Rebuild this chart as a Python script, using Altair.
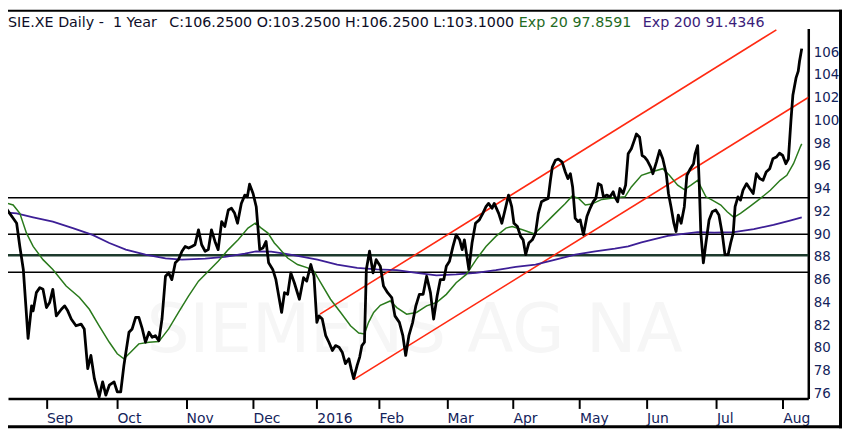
import altair as alt
import pandas as pd

# ---------------- data ----------------
# x = trading-day index over the one-year window, y = price (EUR)
price_day = [0.0, 1.5, 3.5, 4.6, 5.6, 6.7, 7.5, 8.2, 9.3, 9.8, 10.8, 11.9, 12.9, 14.0, 15.0, 16.0, 17.1, 18.7, 19.7, 20.7,
             21.8, 23.3, 24.9, 25.9, 27.0, 28.0, 29.1, 30.6, 31.7, 32.7, 33.8, 35.3, 36.3, 37.4, 38.4, 40.0, 41.0, 42.1, 43.1, 44.2,
             45.2, 46.3, 47.3, 48.3, 49.4, 50.4, 51.5, 52.5, 53.5, 54.6, 55.6, 56.7, 57.7, 58.8, 59.8, 60.8, 61.9, 62.9, 64.0, 65.0,
             66.0, 67.1, 68.1, 69.2, 70.2, 71.3, 72.3, 73.3, 74.2, 75.4, 76.5, 77.3, 78.0, 79.1, 80.1, 81.2, 82.2, 83.2, 84.0, 85.3,
             86.3, 88.1, 89.0, 90.0, 91.0, 92.1, 93.7, 95.0, 96.0, 97.3, 98.3, 99.2, 99.9, 100.9, 102.0, 103.0, 104.1, 105.1, 106.2, 107.2,
             108.2, 109.3, 110.0, 110.8, 111.9, 112.7, 113.4, 114.2, 114.8, 115.8, 116.9, 117.9, 119.2, 120.2, 121.5, 122.8, 123.8, 125.2, 126.3, 127.2,
             128.2, 129.4, 130.4, 131.5, 132.7, 133.8, 135.0, 136.0, 137.1, 138.1, 139.2, 140.0, 141.0, 142.1, 143.1, 144.2, 145.0, 145.7, 147.1, 148.1,
             149.2, 150.4, 151.5, 152.5, 153.3, 154.4, 155.1, 156.5, 157.5, 158.5, 159.6, 160.6, 161.3, 162.4, 163.4, 164.2, 165.0, 166.0, 167.1, 168.1,
             169.0, 170.0, 171.0, 172.1, 172.8, 173.4, 174.4, 175.3, 176.5, 177.5, 178.3, 179.1, 179.8, 180.6, 181.5, 182.2, 183.2, 184.3, 185.3, 186.3,
             187.1, 187.9, 188.8, 189.5, 190.5, 191.6, 192.6, 193.1, 194.0, 194.7, 195.7, 196.5, 197.3, 198.3, 199.2, 199.9, 200.9, 201.7, 202.5, 203.3,
             204.4, 205.1, 206.2, 207.2, 208.2, 209.3, 210.0, 210.8, 211.7, 212.4, 213.1, 214.0, 215.0, 215.8, 216.9, 217.9, 218.4, 219.2, 219.7, 220.2,
             221.0, 221.8, 222.8, 223.8, 224.9, 225.9, 227.0, 227.8, 228.8, 229.6, 230.4, 231.0, 231.9, 232.7, 233.5, 234.6, 235.6, 236.7, 237.7, 238.8,
             239.8, 240.8, 241.9, 242.9, 244.0, 245.0, 246.0, 247.0, 247.8, 248.6, 249.2, 250.2, 250.9, 251.3, 252.0]
price_val = [91.83, 92.18, 91.4, 90.96, 88.92, 86.9, 83.7, 80.85, 83.7, 83.26, 84.86, 85.3, 85.15, 83.55, 83.99, 85.15, 82.82, 83.4, 83.7, 83.26,
             82.54, 81.95, 82.1, 81.67, 78.18, 79.34, 77.3, 75.7, 77.02, 75.85, 76.73, 77.02, 76.15, 76.15, 78.47, 81.38, 81.67, 82.68, 82.68, 81.67,
             80.5, 81.38, 80.94, 81.08, 80.64, 82.54, 86.3, 86.6, 86.0, 87.48, 87.76, 88.5, 88.92, 88.78, 88.92, 89.07, 90.38, 89.07, 88.5, 88.64,
             90.38, 89.36, 88.64, 91.1, 90.67, 92.12, 92.27, 91.83, 90.96, 92.7, 93.43, 93.28, 94.39, 93.57, 92.41, 88.64, 88.78, 89.36, 87.48, 86.9,
             86.0, 83.12, 84.86, 84.71, 86.6, 85.73, 84.28, 86.17, 85.87, 87.33, 86.3, 82.25, 82.82, 82.54, 81.08, 80.5, 79.77, 80.21, 80.07, 79.63,
             78.62, 79.05, 78.18, 77.31, 78.47, 79.2, 80.21, 80.5, 86.9, 88.5, 86.6, 87.76, 87.18, 85.44, 84.86, 84.43, 82.82, 82.25, 81.08, 79.34,
             81.08, 82.25, 83.7, 84.71, 84.71, 86.3, 84.86, 82.54, 84.57, 86.0, 86.0, 87.18, 87.62, 88.92, 89.94, 89.5, 88.64, 89.5, 86.9, 89.22,
             90.96, 91.25, 91.83, 92.41, 92.7, 92.27, 92.7, 91.83, 90.96, 92.12, 93.43, 92.41, 90.96, 90.67, 89.8, 89.5, 88.2, 89.22, 89.5, 90.09,
             91.83, 92.85, 92.99, 93.14, 94.73, 95.9, 96.5, 96.6, 96.33, 95.46, 94.88, 95.31, 94.15, 91.4, 91.1, 91.25, 89.94, 91.54, 92.27, 92.85,
             93.14, 94.44, 94.3, 93.28, 93.43, 93.28, 93.72, 93.28, 92.85, 94.01, 93.57, 94.3, 97.06, 97.5, 98.22, 98.8, 98.51, 96.91, 96.77, 96.48,
             95.89, 95.31, 96.33, 97.35, 96.62, 95.31, 93.57, 92.41, 90.96, 90.23, 91.68, 90.96, 92.41, 95.17, 95.75, 96.19, 97.06, 97.78, 94.44, 90.09,
             87.48, 89.22, 91.25, 91.97, 92.12, 91.68, 89.94, 88.2, 88.2, 89.22, 90.09, 92.41, 93.28, 92.99, 93.86, 94.44, 94.01, 93.57, 95.31, 94.88,
             94.73, 95.46, 95.75, 96.62, 96.77, 97.11, 96.91, 96.19, 96.62, 100.0, 102.2, 103.73, 104.32, 105.19, 106.3]

ema20_day = [0.0, 3.5, 5.6, 7.7, 9.8, 12.9, 16.0, 20.2, 24.4, 27.5, 30.6, 33.8, 36.3, 38.4, 40.5, 43.1, 46.3, 49.4, 52.5, 55.6,
             58.8, 61.9, 65.0, 68.1, 71.3, 74.4, 77.5, 79.8, 81.7, 83.8, 85.8, 86.9, 90.0, 93.1, 96.3, 98.3, 100.4, 103.5, 106.7, 109.8,
             112.4, 114.2, 115.5, 117.1, 119.2, 122.3, 124.4, 127.5, 130.6, 133.8, 136.9, 140.0, 143.1, 146.3, 149.4, 152.5, 155.6, 158.8, 160.8, 164.0,
             167.6, 170.2, 173.3, 177.5, 179.6, 181.7, 183.8, 185.8, 189.0, 193.1, 196.3, 198.3, 201.5, 204.6, 208.2, 210.3, 212.9, 215.0, 217.1, 219.2,
             220.2, 221.8, 223.8, 226.5, 228.5, 230.6, 232.7, 235.8, 239.0, 242.1, 245.2, 247.3, 249.4, 251.5, 252.0]
ema20_val = [92.84, 92.56, 91.83, 90.09, 88.92, 87.76, 86.9, 85.44, 84.43, 83.4, 81.95, 80.5, 79.49, 79.05, 79.63, 80.36, 80.5, 80.56, 81.67, 83.12,
             84.57, 85.87, 86.74, 87.62, 88.64, 89.5, 90.53, 90.96, 90.53, 90.09, 89.22, 88.9, 87.9, 87.33, 87.04, 86.74, 85.73, 84.28, 83.12, 81.95,
             81.32, 81.23, 82.25, 83.12, 83.75, 84.13, 83.55, 82.97, 83.12, 83.7, 83.99, 84.71, 85.73, 86.46, 87.76, 88.92, 89.8, 90.53, 90.67, 90.38,
             90.03, 90.67, 91.54, 92.7, 93.34, 93.14, 92.56, 92.64, 93.05, 93.19, 93.28, 94.15, 95.17, 95.46, 95.75, 95.17, 94.3, 93.92, 94.3, 94.73,
             94.15, 93.28, 92.99, 92.56, 91.97, 91.48, 91.83, 92.47, 93.14, 93.86, 94.73, 95.17, 96.19, 97.64, 97.93]

ema200_day = [0.0, 4.6, 9.8, 16.0, 22.3, 28.5, 33.8, 39.0, 45.2, 51.5, 56.7, 64.0, 70.2, 76.5, 80.1, 84.8, 89.0, 93.1, 99.4, 105.6,
              111.9, 118.1, 124.4, 130.6, 136.9, 143.1, 149.4, 155.6, 161.9, 168.1, 174.4, 180.6, 186.9, 193.1, 197.3, 201.5, 205.6, 209.8, 214.0, 219.2,
              224.4, 230.6, 236.9, 243.1, 248.3, 252.0]
ema200_val = [91.92, 91.83, 91.48, 91.1, 90.53, 89.94, 89.22, 88.64, 88.2, 87.88, 87.76, 87.85, 88.0, 88.29, 88.49, 88.46, 88.29, 88.1, 87.76, 87.33,
              87.04, 86.9, 86.83, 86.6, 86.37, 86.46, 86.6, 86.83, 87.12, 87.33, 87.76, 88.2, 88.49, 88.72, 88.92, 89.27, 89.56, 89.85, 90.0, 90.17,
              90.14, 90.17, 90.44, 90.81, 91.19, 91.48]

# trend channel (two parallel red lines): start / end points
channel_name = ["upper", "upper", "lower", "lower"]
channel_day = [100.2, 244.0, 110.8, 254.3]
channel_val = [82.97, 107.95, 77.22, 102.05]

# horizontal support / resistance levels
level_val = [93.2, 90.0, 88.15, 86.65]
level_color = ["#000000", "#000000", "#1d3a2c", "#000000"]
level_width = [1.5, 1.5, 2.6, 1.5]

month_days = [14.0, 36.2, 58.0, 79.1, 99.2, 118.8, 140.2, 161.0, 182.0, 203.1, 225.1, 246.0]
month_labels = ["Sep", "Oct", "Nov", "Dec", "2016", "Feb", "Mar", "Apr", "May", "Jun", "Jul", "Aug"]
price_ticks = list(range(76, 108, 2))

title_main = "SIE.XE Daily -\u00a0 1 Year"
title_ohlc = "C:106.2500 O:103.2500 H:106.2500 L:103.1000"
title_ema20 = "Exp 20 97.8591"
title_ema200 = "Exp 200 91.4346"
watermark = "SIEMENS AG NA"

# ---------------- chart ----------------
FONT = "DejaVu Sans"
NAVY = "#13235b"
X_DOMAIN = [1.875, 254.06]
Y_DOMAIN = [75.56, 108.06]
W, H = 807, 373
PAD = {"left": 0, "top": 19, "right": 34, "bottom": 30}

# month label lookup as a chain of conditions
label_expr = ""
for d, lab in zip(month_days, month_labels):
    label_expr += f"abs(datum.value - {d}) < 0.5 ? '{lab}' : "
label_expr += "''"

x_axis = alt.Axis(values=month_days, labelExpr=label_expr, title=None, grid=False,
                  domainColor="black", domainWidth=2.5, tickColor="black", tickWidth=2, tickSize=10,
                  labelAlign="left", labelBaseline="top", labelPadding=3, labelFont=FONT,
                  labelFontSize=14, labelColor=NAVY, labelFlush=False, labelOverlap=False)
y_axis = alt.Axis(orient="right", values=price_ticks, title=None, grid=False,
                  domainColor="black", domainWidth=2.5, ticks=False, tickSize=0, labelPadding=5,
                  labelFont=FONT, labelFontSize=13.5, labelColor=NAVY, labelOverlap=False, labelFlush=False)

x_enc = alt.X("day:Q", scale=alt.Scale(domain=X_DOMAIN, nice=False, zero=False), axis=x_axis)
y_enc = alt.Y("val:Q", scale=alt.Scale(domain=Y_DOMAIN, nice=False, zero=False), axis=y_axis)

price_df = pd.DataFrame({"day": price_day, "val": price_val})
ema20_df = pd.DataFrame({"day": ema20_day, "val": ema20_val})
ema200_df = pd.DataFrame({"day": ema200_day, "val": ema200_val})
channel_df = pd.DataFrame({"line": channel_name, "day": channel_day, "val": channel_val})
level_df = pd.DataFrame({"val": level_val, "c": level_color, "w": level_width})
one_row = pd.DataFrame({"k": [0]})


def text_layer(txt, x, y, color, size, align="left"):
    return alt.Chart(pd.DataFrame({"t": [txt]})).mark_text(
        font=FONT, fontSize=size, color=color, align=align, baseline="alphabetic"
    ).encode(text="t:N", x=alt.value(x), y=alt.value(y))


wm = text_layer(watermark, 410, 326, "#f6f6f6", 68, align="center")

levels = alt.Chart(level_df).mark_rule().encode(
    y=y_enc,
    color=alt.Color("c:N", scale=None),
    strokeWidth=alt.StrokeWidth("w:Q", scale=None),
)

channel = alt.Chart(channel_df).mark_line(color="#ff2a12", strokeWidth=1.6, clip=True).encode(
    x=x_enc, y=y_enc, detail="line:N"
)
ema200 = alt.Chart(ema200_df).mark_line(color="#3d1f96", strokeWidth=1.8, clip=True).encode(x=x_enc, y=y_enc)
ema20 = alt.Chart(ema20_df).mark_line(color="#2a7a1c", strokeWidth=1.5, clip=True).encode(x=x_enc, y=y_enc)
price = alt.Chart(price_df).mark_line(color="black", strokeWidth=2.8, strokeJoin="round", clip=True).encode(
    x=x_enc, y=y_enc
)

t1 = text_layer(title_main, 0, -1.5, "#0d0d26", 14.4)
t2 = text_layer(title_ohlc, 162.7, -1.5, "#0d0d26", 14.4)
t3 = text_layer(title_ema20, 515, -1.5, "#1f6b1f", 14.4)
t4 = text_layer(title_ema200, 640, -1.5, "#3b1d7a", 14.4)

# black frame of the screenshot (top, right, bottom edges)
frame_top = alt.Chart(one_row).mark_rule(color="black", strokeWidth=2).encode(
    x=alt.value(0), x2=alt.value(W + PAD["right"]), y=alt.value(-PAD["top"] + 1))
frame_right = alt.Chart(one_row).mark_rule(color="black", strokeWidth=3).encode(
    x=alt.value(W + PAD["right"] - 1.5), y=alt.value(-PAD["top"]), y2=alt.value(H + PAD["bottom"]))
frame_bottom = alt.Chart(one_row).mark_rule(color="black", strokeWidth=3).encode(
    x=alt.value(0), x2=alt.value(W + PAD["right"]), y=alt.value(H + PAD["bottom"] - 1.5))

chart = alt.layer(wm, levels, channel, ema200, ema20, price, t1, t2, t3, t4,
                  frame_top, frame_right, frame_bottom).properties(
    width=W, height=H,
    padding=PAD,
    autosize=alt.AutoSizeParams(type="none"),
    background="white",
).configure_view(stroke=None)

chart.save("out.html", embed_options={"renderer": "svg", "actions": False})
